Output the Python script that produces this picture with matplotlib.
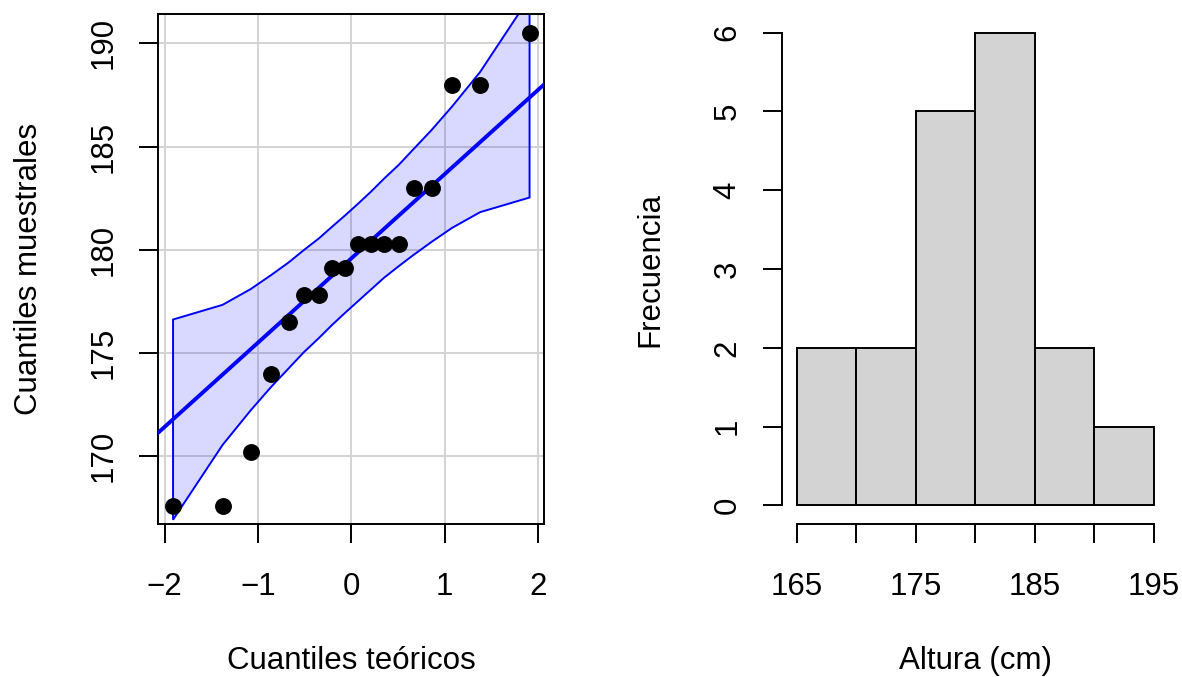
import numpy as np
import matplotlib
matplotlib.use('Agg')
import matplotlib.pyplot as plt

plt.rcParams['font.family'] = ['Liberation Sans', 'DejaVu Sans']

# Q-Q plot data (theoretical normal quantiles vs observed heights)
teoricos = [-1.91, -1.38, -1.08, -0.86, -0.67, -0.51, -0.35, -0.21, -0.07,
            0.07, 0.21, 0.35, 0.51, 0.67, 0.86, 1.08, 1.38, 1.91]
muestrales = [167.6, 167.6, 170.2, 174.0, 176.5, 177.8, 177.8, 179.1, 179.1,
              180.3, 180.3, 180.3, 180.3, 183.0, 183.0, 188.0, 188.0, 190.5]
banda_sup = [176.62, 177.33, 178.09, 178.77, 179.39, 179.98, 180.54, 181.10, 181.65,
             182.22, 182.81, 183.44, 184.12, 184.89, 185.80, 186.94, 188.61, 192.23]
banda_inf = [166.92, 170.54, 172.21, 173.35, 174.26, 175.03, 175.71, 176.34, 176.93,
             177.50, 178.07, 178.64, 179.21, 179.76, 180.38, 181.06, 181.82, 182.53]
intercepto = 179.58
pendiente = 4.08

# histogram
limites = [165, 170, 175, 180, 185, 190, 195]
frecuencias = [2, 2, 5, 6, 2, 1]

fs = 22.5
lw = 1.4
tick_len = 13.7

fig = plt.figure(figsize=(11.82, 6.77), dpi=100)
ax1 = fig.add_axes([158.3 / 1182, (677 - 524.3) / 677, 386 / 1182, 510.5 / 677])
ax2 = fig.add_axes([782.4 / 1182, (677 - 524.3) / 677, 385.9 / 1182, 510.5 / 677])

# ---- left: qq plot ----
ax1.set_axisbelow(True)
ax1.grid(True, color='#D3D3D3', lw=lw)
z = np.array(teoricos)
poly_x = np.concatenate([z, z[::-1]])
poly_y = np.concatenate([banda_sup, banda_inf[::-1]])
ax1.fill(poly_x, poly_y, facecolor=(0, 0, 1, 0.15), edgecolor='blue', lw=lw, zorder=2)
ax1.axline((0, intercepto), slope=pendiente, color='blue', lw=2 * lw, zorder=3)
ax1.scatter(teoricos, muestrales, s=148, color='black', lw=0, zorder=4)
ax1.set_xlim(-2.068, 2.068)
ax1.set_ylim(166.70, 191.43)
ax1.set_xticks([-2, -1, 0, 1, 2])
ax1.set_yticks([170, 175, 180, 185, 190])
for s in ax1.spines.values():
    s.set_linewidth(lw)
ax1.tick_params(axis='both', length=tick_len, width=lw, labelsize=fs)
ax1.tick_params(axis='x', pad=21)
ax1.tick_params(axis='y', pad=15)
for t in ax1.get_yticklabels():
    t.set_rotation(90)
    t.set_va('center')
ax1.set_xlabel('Cuantiles teóricos', fontsize=fs, va='baseline')
ax1.xaxis.set_label_coords(0.5, (524.3 - 669) / 510.5)
ax1.set_ylabel('Cuantiles muestrales', fontsize=fs, va='baseline')
ax1.yaxis.set_label_coords((37 - 158.3) / 386, 0.5)

# ---- right: histogram ----
ax2.bar(limites[:-1], frecuencias, width=5, align='edge', color='#D3D3D3',
        edgecolor='black', lw=lw)
ax2.set_xlim(163.8, 196.2)
ax2.set_ylim(-0.24, 6.24)
ax2.set_xticks(limites)
ax2.set_xticklabels(['165', '', '175', '', '185', '', '195'])
ax2.set_yticks([0, 1, 2, 3, 4, 5, 6])
for side in ['top', 'right']:
    ax2.spines[side].set_visible(False)
ax2.spines['left'].set_bounds(0, 6)
ax2.spines['bottom'].set_bounds(165, 195)
ax2.spines['left'].set_linewidth(lw)
ax2.spines['bottom'].set_linewidth(lw)
ax2.tick_params(axis='both', length=tick_len, width=lw, labelsize=fs)
ax2.tick_params(axis='x', pad=21)
ax2.tick_params(axis='y', pad=15)
for t in ax2.get_yticklabels():
    t.set_rotation(90)
    t.set_va('center')
ax2.set_xlabel('Altura (cm)', fontsize=fs, va='baseline')
ax2.xaxis.set_label_coords(0.5, (524.3 - 669) / 510.5)
ax2.set_ylabel('Frecuencia', fontsize=fs, va='baseline')
ax2.yaxis.set_label_coords((658 - 782.4) / 385.9, 0.5)

fig.savefig('out.png', dpi=100)
